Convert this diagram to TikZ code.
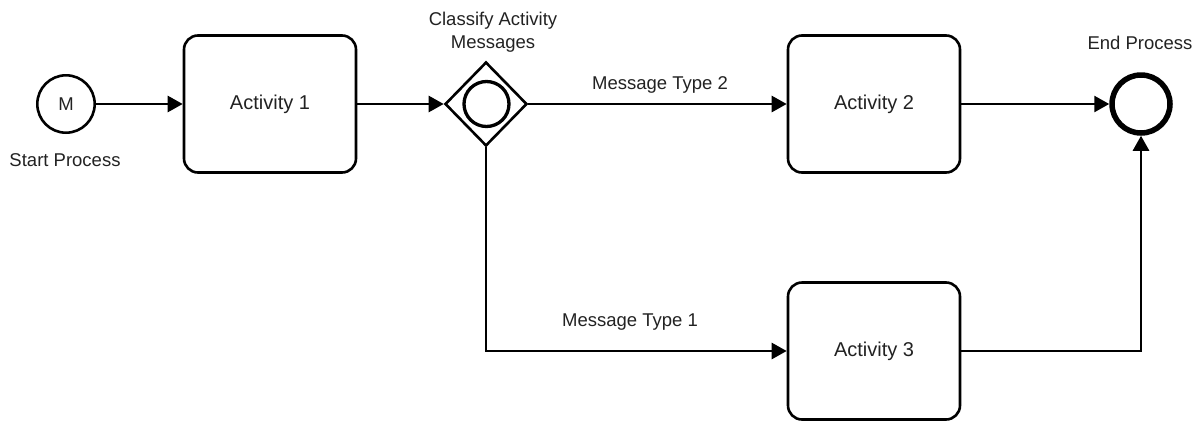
\documentclass[tikz,border=0pt]{standalone}
\usepackage{fontspec}
\setmainfont{Liberation Sans}
\usetikzlibrary{arrows.meta,shapes.geometric}
\definecolor{ink}{HTML}{222222}

\begin{document}
\begin{tikzpicture}[x=1pt,y=-1pt,
  line width=2.6pt,
  activity/.style={draw, rounded corners=14pt, minimum width=172pt,
    minimum height=137pt, inner sep=0pt, text=ink,
    font=\fontsize{20}{24}\selectfont},
  event/.style={draw, circle, inner sep=0pt, text=ink,
    font=\fontsize{18.5}{22}\selectfont},
  gateway/.style={draw, diamond, minimum width=82pt, minimum height=84pt,
    inner sep=0pt},
  flow/.style={-{Triangle[length=15pt,width=16pt]}},
  lbl/.style={text=ink, font=\fontsize{18.5}{23}\selectfont, align=center}
]
\useasboundingbox (0,0) rectangle (1202,421);

% events, tasks and the gateway
\node[event, minimum size=57.4pt] (start) at (66,104) {M};
\node[activity] (act1) at (270,104) {Activity 1};
\node[gateway] (gw) at (486,104) {};
\node[draw, circle, line width=3.3pt, minimum size=45pt, inner sep=0pt] (gwin) at (486.5,104) {};
\node[activity] (act2) at (874,104) {Activity 2};
\node[activity] (act3) at (874,351) {Activity 3};
\node[draw, circle, line width=5.5pt, minimum size=58pt, inner sep=0pt] (end) at (1141,104) {};

% labels
\node[lbl] (startlbl) at (65,160) {Start Process};
\node[lbl] (gwlbl) at (493,32) {Classify Activity\\Messages};
\node[lbl] (endlbl) at (1140,43) {End Process};
\node[lbl] (mt2) at (660,85) {Message Type 2};
\node[lbl] (mt1) at (630,322) {Message Type 1};

% sequence flows
\draw[flow] (start.east) -- (act1.west);
\draw[flow] (act1.east) -- (gw.west);
\draw[flow] (gw.east) -- (act2.west);
\draw[flow] (act2.east) -- (end.west);
\draw[flow] (gw.south) |- (act3.west);
\draw[flow] (act3.east) -| (end.south);
\end{tikzpicture}
\end{document}
